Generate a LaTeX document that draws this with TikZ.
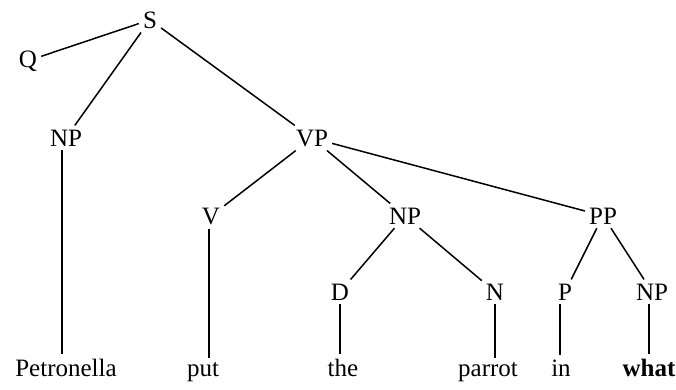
\documentclass[tikz,border=0pt]{standalone}
\usepackage{fontspec}
\setmainfont{Liberation Serif}

\tikzset{
    cat/.style={anchor=base,inner sep=4pt,font=\fontsize{25}{30}\selectfont},
    branch/.style={line width=1.5pt}
}

\begin{document}
\begin{tikzpicture}[x=1pt,y=-1pt]

            \useasboundingbox (0,0) rectangle (676,389);
            % top of the tree
            \node[cat] (s) at (150,28) {S};
            \node[cat] (q) at (28,67) {Q};
            \node[cat] (np1) at (66,146) {NP};
            \node[cat] (vp) at (312,146) {VP};
            % phrases under VP
            \node[cat] (v) at (211,224) {V};
            \node[cat] (np2) at (405,224) {NP};
            \node[cat] (pp) at (603,224) {PP};
            \node[cat] (d) at (340,300) {D};
            \node[cat] (n) at (495,300) {N};
            \node[cat] (p) at (565,300) {P};
            \node[cat] (np3) at (652,300) {NP};
            % the words
            \node[cat] (petronella) at (66,376) {Petronella};
            \node[cat] (put) at (203,376) {put};
            \node[cat] (the) at (343,376) {the};
            \node[cat] (parrot) at (488,376) {parrot};
            \node[cat] (in) at (561,376) {in};
            \node[cat] (what) at (649,376) {\bfseries what};
            % branches
            \draw[branch] (s) -- (q);
            \draw[branch] (s) -- (np1);
            \draw[branch] (s) -- (vp);
            \draw[branch] (vp) -- (v);
            \draw[branch] (vp) -- (np2);
            \draw[branch] (vp) -- (pp);
            \draw[branch] (np2) -- (d);
            \draw[branch] (np2) -- (n);
            \draw[branch] (pp) -- (p);
            \draw[branch] (pp) -- (np3);
            % straight down to the words
            \draw[branch] ([xshift=-4pt]np1.south) -- ([xshift=-4pt]np1.south |- petronella.north);
            \draw[branch] ([xshift=-2pt]v.south) -- ([xshift=-2pt]v.south |- put.north);
            \draw[branch] (d.south) -- (d.south |- the.north);
            \draw[branch] (n.south) -- (n.south |- parrot.north);
            \draw[branch] ([xshift=-5pt]p.south) -- ([xshift=-5pt]p.south |- in.north);
            \draw[branch] ([xshift=-3pt]np3.south) -- ([xshift=-3pt]np3.south |- what.north);
        \end{tikzpicture}
\end{document}
